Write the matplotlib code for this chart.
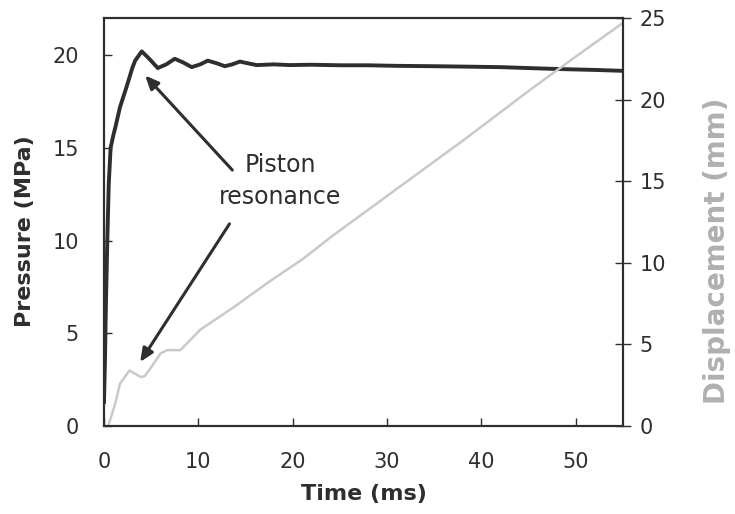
import matplotlib.pyplot as plt

plt.rcParams['font.family'] = ['DejaVu Sans']

# pressure trace (MPa) vs time (ms)
t_p = [0, 0.1, 0.2, 0.35, 0.5, 0.7, 1.0, 1.2, 1.7, 2.4, 3.0, 3.3, 4.0, 4.8, 5.7,
       6.6, 7.5, 8.4, 9.3, 10.2, 11.0, 12.0, 12.8, 13.6, 14.4, 15.3, 16.2, 18,
       19.7, 22, 25, 28, 31, 35, 38, 42, 45, 48, 52, 55]
pressure = [1.3, 3.5, 6.5, 10.0, 13.0, 15.0, 15.7, 16.1, 17.2, 18.3, 19.3, 19.7,
            20.2, 19.8, 19.3, 19.5, 19.8, 19.6, 19.35, 19.5, 19.7, 19.55, 19.4,
            19.5, 19.65, 19.55, 19.46, 19.5, 19.46, 19.48, 19.45, 19.45, 19.42,
            19.4, 19.38, 19.35, 19.3, 19.25, 19.2, 19.15]

# displacement trace (mm) vs time (ms)
t_d = [0.45, 1.2, 1.7, 2.7, 3.3, 3.9, 4.3, 5.0, 6.0, 6.7, 8.1, 10.2, 13.8, 17.4,
       21, 24.1, 31.2, 38.3, 45.4, 50.4, 55]
displacement = [0, 1.4, 2.6, 3.4, 3.2, 3.0, 3.05, 3.6, 4.45, 4.65, 4.65, 5.9,
                7.3, 8.8, 10.2, 11.6, 14.6, 17.6, 20.7, 22.8, 24.7]

dark = '#2e2e2e'
light = '#c9c9cd'

fig = plt.figure(figsize=(7.35, 5.14), dpi=100)
ax = fig.add_axes([0.1415, 0.1712, 0.706, 0.7938])
ax.plot(t_p, pressure, color=dark, lw=2.8, solid_joinstyle='round')
ax.set_xlim(0, 55)
ax.set_ylim(0, 22)
ax.set_xticks([0, 10, 20, 30, 40, 50])
ax.set_yticks([0, 5, 10, 15, 20])
ax.tick_params(direction='in', length=6, width=1, colors=dark, labelsize=15)
ax.tick_params(axis='x', pad=19)
ax.tick_params(axis='y', pad=18)
ax.set_xlabel('Time (ms)', fontsize=16, fontweight='bold', color=dark, labelpad=8)
ax.set_ylabel('Pressure (MPa)', fontsize=16, fontweight='bold', color=dark)
ax.yaxis.set_label_coords(-0.133, 0.478)

ax2 = ax.twinx()
ax2.plot(t_d, displacement, color=light, lw=1.8)
ax2.set_ylim(0, 25)
ax2.set_yticks([0, 5, 10, 15, 20, 25])
ax2.tick_params(direction='inout', length=12, width=1, colors=dark, labelsize=15, pad=6)
ax2.set_ylabel('Displacement (mm)', fontsize=20, fontweight='bold', color='#b0b0b0')
ax2.yaxis.set_label_coords(1.154, 0.429)

for a in (ax, ax2):
    for s in a.spines.values():
        s.set_color(dark)
        s.set_linewidth(1.5)

ax.text(18.7, 13.2, 'Piston\nresonance', fontsize=17, color=dark,
        ha='center', va='center', linespacing=1.45)
arrow = dict(arrowstyle='-|>,head_length=0.8,head_width=0.35', color=dark, lw=2.2,
             shrinkA=0, shrinkB=0)
ax.annotate('', xy=(4.36, 18.9), xytext=(13.6, 13.8), arrowprops=arrow)
ax.annotate('', xy=(3.83, 3.45), xytext=(13.3, 10.9), arrowprops=arrow)

fig.savefig('out.png', dpi=100)
